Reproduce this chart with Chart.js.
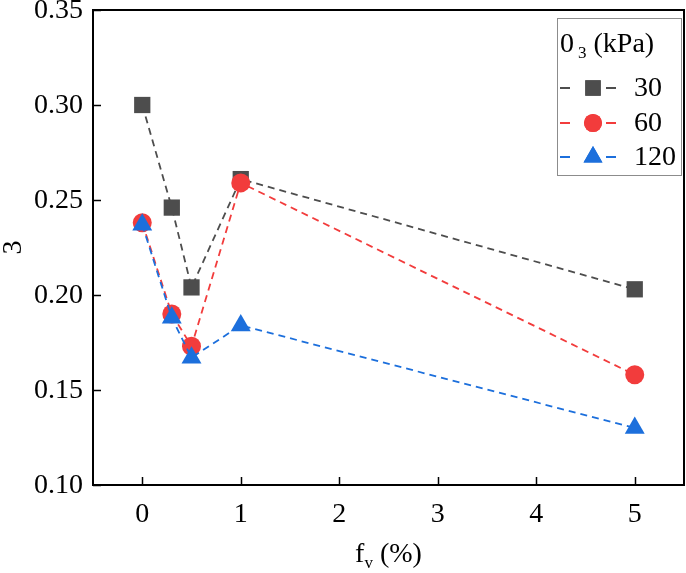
<!DOCTYPE html>
<html>
<head>
<meta charset="utf-8">
<script src="https://cdn.jsdelivr.net/npm/chart.js@4.4.0/dist/chart.umd.min.js"></script>
<style>
  html, body { margin: 0; padding: 0; background: #fff; }
  #wrap { width: 686px; height: 573px; }
</style>
</head>
<body>
<div id="wrap"><canvas id="chart" width="686" height="573"></canvas></div>
<script>
// data
const fv = [0, 0.3, 0.5, 1, 5];
const eps30 = [0.300, 0.246, 0.204, 0.261, 0.203];
const eps60 = [0.238, 0.190, 0.173, 0.259, 0.158];
const eps120 = [0.237, 0.188, 0.167, 0.184, 0.130];
const seriesLabels = ['30', '60', '120'];
const xTicks = [0, 1, 2, 3, 4, 5];
const yTicks = [0.10, 0.15, 0.20, 0.25, 0.30, 0.35];

const FONT = '"Liberation Serif", "Times New Roman", serif';
const colors = ['#4d4d4d', '#f23c3c', '#1c6fdc'];
const styles = ['rect', 'circle', 'triangle'];
const radii = [11.5, 9.5, 11.5];

const toPoints = ys => ys.map((y, i) => ({ x: fv[i], y: y }));

const makeSet = (k, ys) => ({
    label: seriesLabels[k],
    data: toPoints(ys),
    showLine: true,
    borderColor: colors[k],
    backgroundColor: colors[k],
    borderWidth: 1.8,
    borderDash: [7, 5],
    pointStyle: styles[k],
    pointRadius: radii[k],
    pointHoverRadius: radii[k],
    pointBorderWidth: 0,
    order: 2 - k
});

// frame, inward ticks, tick labels, titles and legend
const decor = {
    id: 'decor',
    afterDraw(chart) {
        const ctx = chart.ctx;
        const a = chart.chartArea;
        const xs = chart.scales.x, ys = chart.scales.y;
        const big = '28px ' + FONT, small = '17px ' + FONT;
        ctx.save();
        ctx.strokeStyle = '#000';
        ctx.lineWidth = 2;
        ctx.strokeRect(a.left, a.top, a.right - a.left, a.bottom - a.top);
        ctx.lineWidth = 1.5;
        ctx.beginPath();
        xTicks.forEach(v => {
            const px = Math.round(xs.getPixelForValue(v)) + 0.5;
            ctx.moveTo(px, a.bottom);
            ctx.lineTo(px, a.bottom - 8);
        });
        yTicks.forEach(v => {
            const py = Math.round(ys.getPixelForValue(v)) + 0.5;
            ctx.moveTo(a.left, py);
            ctx.lineTo(a.left + 8, py);
        });
        ctx.stroke();

        // tick labels
        ctx.fillStyle = '#000';
        ctx.font = big;
        ctx.textAlign = 'center';
        ctx.textBaseline = 'middle';
        xTicks.forEach(v => {
            ctx.fillText(String(v), xs.getPixelForValue(v), a.bottom + 30);
        });
        ctx.textAlign = 'right';
        yTicks.forEach(v => {
            ctx.fillText(v.toFixed(2), a.left - 10, ys.getPixelForValue(v) + 1);
        });

        // x title: f_v (%)
        ctx.textBaseline = 'alphabetic';
        ctx.textAlign = 'left';
        ctx.font = big;
        const wf = ctx.measureText('f').width;
        const wr = ctx.measureText(' (%)').width;
        ctx.font = small;
        const wv = ctx.measureText('v').width;
        let x0 = (a.left + a.right) / 2 - (wf + wv + wr) / 2;
        const by = 562;
        ctx.font = big; ctx.fillText('f', x0, by);
        ctx.font = small; ctx.fillText('v', x0 + wf, by + 6);
        ctx.font = big; ctx.fillText(' (%)', x0 + wf + wv, by);

        // y title
        ctx.save();
        ctx.translate(14, (a.top + a.bottom) / 2);
        ctx.rotate(-Math.PI / 2);
        ctx.textAlign = 'center';
        ctx.textBaseline = 'middle';
        ctx.font = big;
        ctx.fillText('3', 0, 0);
        ctx.restore();

        // legend box
        const L = 557, T = 18, R = 681, B = 175;
        ctx.fillStyle = '#fff';
        ctx.fillRect(L, T, R - L, B - T);
        ctx.strokeStyle = '#8c8c8c';
        ctx.lineWidth = 1;
        ctx.strokeRect(L + 0.5, T + 0.5, R - L, B - T);
        ctx.fillStyle = '#000';
        ctx.textAlign = 'left';
        ctx.font = big;
        ctx.fillText('0', 560, 52);
        const w0 = ctx.measureText('0').width;
        ctx.font = small;
        ctx.fillText('3', 560 + w0 + 4, 58);
        const w3 = ctx.measureText('3').width;
        ctx.font = big;
        ctx.fillText(' (kPa)', 560 + w0 + 4 + w3, 52);

        const rowY = [88, 123, 157];
        chart.data.datasets.forEach((ds, k) => {
            const cy = rowY[k];
            ctx.strokeStyle = colors[k];
            ctx.lineWidth = 1.8;
            ctx.setLineDash([]);
            ctx.beginPath();
            ctx.moveTo(560, cy); ctx.lineTo(570, cy);
            ctx.moveTo(606, cy); ctx.lineTo(616, cy);
            ctx.stroke();
            ctx.fillStyle = colors[k];
            Chart.helpers.drawPoint(ctx, { pointStyle: styles[k], radius: radii[k] * 0.95, borderWidth: 0, rotation: 0 }, 593, cy);
            ctx.fill();
            ctx.fillStyle = '#000';
            ctx.font = big;
            ctx.textBaseline = 'middle';
            ctx.fillText(ds.label, 634, cy + 1);
            ctx.textBaseline = 'alphabetic';
        });
        ctx.restore();
    }
};

const draw = () => {
    const ctx = document.getElementById('chart').getContext('2d');
    new Chart(ctx, {
        type: 'scatter',
        data: {
            datasets: [makeSet(0, eps30), makeSet(1, eps60), makeSet(2, eps120)]
        },
        options: {
            responsive: false,
            animation: false,
            layout: { autoPadding: false, padding: { top: 10, right: 2, left: 0, bottom: 0 } },
            scales: {
                x: {
                    type: 'linear',
                    min: -0.5,
                    max: 5.5,
                    afterFit: s => { s.height = 88; },
                    grid: { display: false, drawTicks: false },
                    border: { display: false },
                    ticks: { display: false }
                },
                y: {
                    min: 0.10,
                    max: 0.35,
                    afterFit: s => { s.width = 93; },
                    grid: { display: false, drawTicks: false },
                    border: { display: false },
                    ticks: { display: false }
                }
            },
            plugins: {
                legend: { display: false },
                tooltip: { enabled: false }
            }
        },
        plugins: [decor]
    });
};

document.fonts.load('28px "Liberation Serif"').then(draw, draw);
</script>
</body>
</html>
